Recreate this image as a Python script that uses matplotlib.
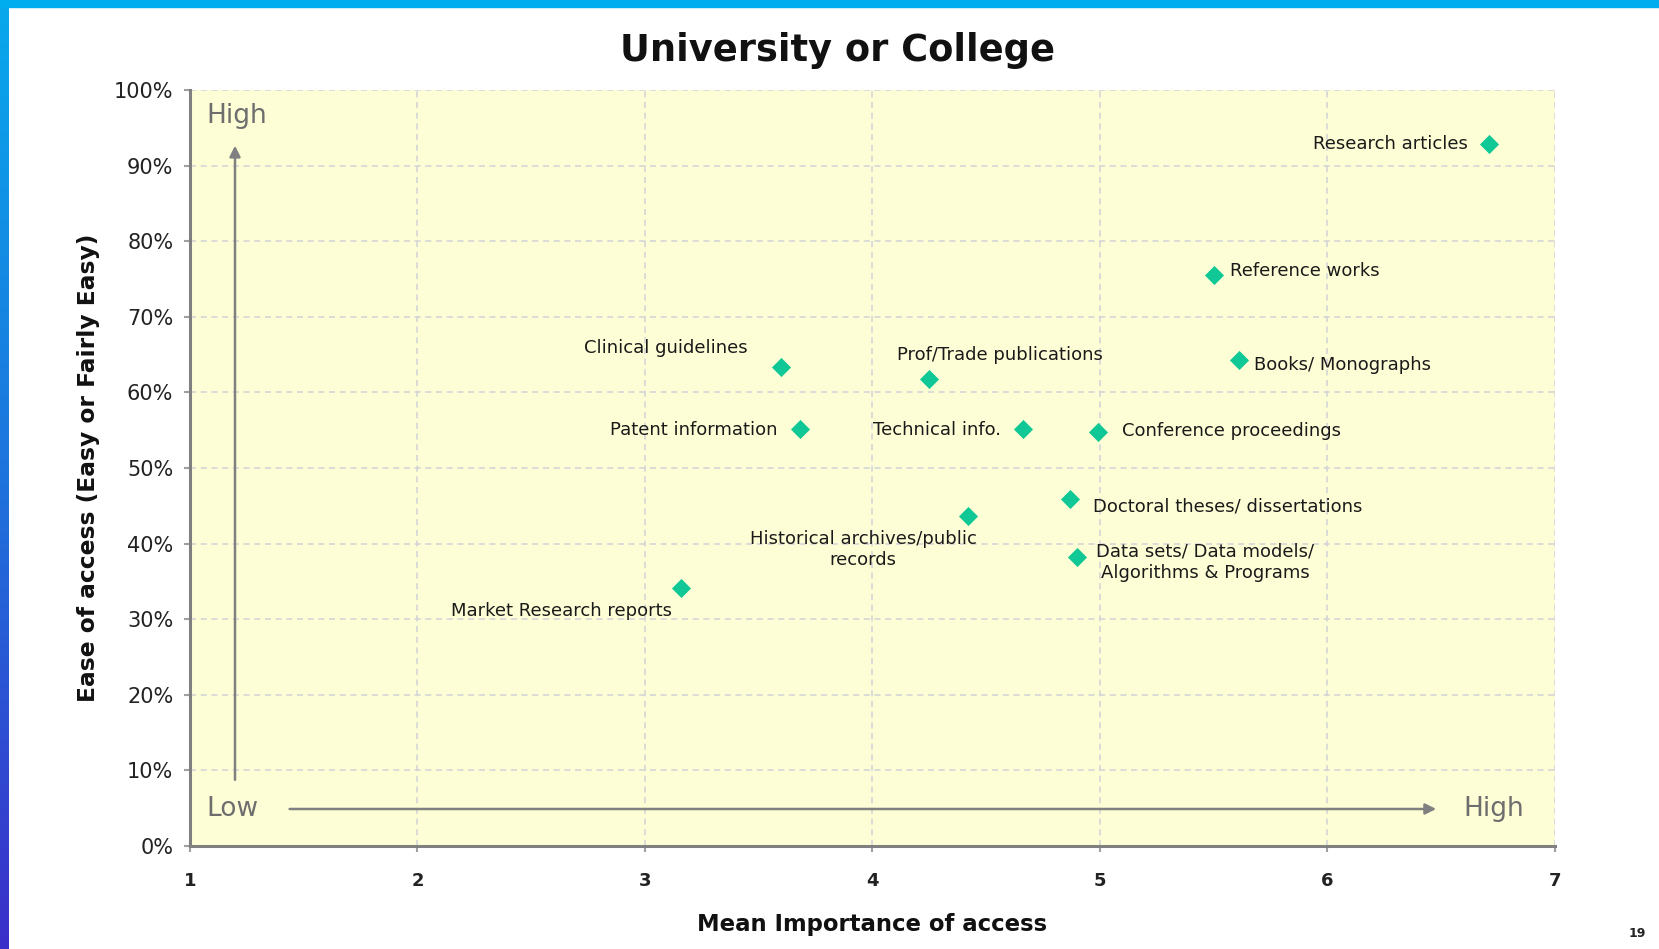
import matplotlib.pyplot as plt
import matplotlib.ticker as mticker
from matplotlib.colors import LinearSegmentedColormap
import numpy as np

# mean importance (x) and ease of access in % (y)
labels = ['Research articles', 'Reference works', 'Books/ Monographs', 'Clinical guidelines',
          'Prof/Trade publications', 'Patent information', 'Technical info.', 'Conference proceedings',
          'Doctoral theses/ dissertations', 'Historical archives/public\nrecords',
          'Data sets/ Data models/\nAlgorithms & Programs', 'Market Research reports']
importance = [6.71, 5.50, 5.61, 3.60, 4.25, 3.68, 4.66, 4.99, 4.87, 4.42, 4.90, 3.16]
ease = [92.9, 75.5, 64.3, 63.4, 61.8, 55.2, 55.2, 54.7, 45.9, 43.6, 38.2, 34.1]

# label offsets in pixels and alignment
offsets = [(-21, 0), (16, 4), (15, -5), (-34, 19), (-32, 24), (-22, -1), (-22, -1),
           (24, 1), (23, -8), (-105, -33), (128, -5), (-120, -23)]
aligns = ['right', 'left', 'left', 'right', 'left', 'right', 'right',
          'left', 'left', 'center', 'center', 'center']

x_ticks = [1, 2, 3, 4, 5, 6, 7]
y_ticks = [0, 10, 20, 30, 40, 50, 60, 70, 80, 90, 100]

plt.rcParams['font.family'] = 'DejaVu Sans'

fig = plt.figure(figsize=(16.59, 9.49), dpi=100)

# slide frame: top bar and left gradient bar
fig.patches.append(plt.Rectangle((0, 0.993), 1, 0.007, transform=fig.transFigure,
                                 color='#00aeef', zorder=0))
bar_ax = fig.add_axes([0, 0, 0.005, 0.993])
grad = np.linspace(0, 1, 256).reshape(-1, 1)
cmap = LinearSegmentedColormap.from_list('bar', ['#3b2fc9', '#1e73dd', '#08a8ec'])
bar_ax.imshow(grad, aspect='auto', cmap=cmap, origin='lower')
bar_ax.axis('off')

ax = fig.add_axes([0.1145, 0.1085, 0.8228, 0.7967])
ax.set_facecolor('#fefed6')
ax.set_xlim(1, 7)
ax.set_ylim(0, 100)
ax.set_xticks(x_ticks)
ax.set_yticks(y_ticks)
ax.yaxis.set_major_formatter(mticker.FuncFormatter(lambda v, p: f'{v:.0f}%'))
ax.grid(True, linestyle=(0, (4, 3)), color='#d2d2d8', linewidth=1.1)
ax.set_axisbelow(True)
for s in ['top', 'right']:
    ax.spines[s].set_visible(False)
for s in ['left', 'bottom']:
    ax.spines[s].set_color('#808080')
    ax.spines[s].set_linewidth(2.2)
ax.tick_params(axis='both', colors='#a0a0a0', length=4, width=1.5)
ax.tick_params(axis='y', labelcolor='#222222', labelsize=15, pad=8)
ax.tick_params(axis='x', labelcolor='#222222', labelsize=13, pad=15)
for t in ax.get_xticklabels():
    t.set_fontweight('bold')

ax.scatter(importance, ease, marker='D', s=95, color='#10c895', zorder=3, linewidths=0)

for name, xv, yv, off, ha in zip(labels, importance, ease, offsets, aligns):
    ax.annotate(name, (xv, yv), xytext=off, textcoords='offset pixels',
                ha=ha, va='center', fontsize=13, color='#1a1a1a',
                multialignment='center', zorder=4)

# Low / High guide arrows
ax.annotate('', xy=(0.033, 0.93), xytext=(0.033, 0.084), xycoords='axes fraction',
            arrowprops=dict(arrowstyle='-|>', color='#808080', lw=1.8, mutation_scale=16))
ax.annotate('', xy=(0.915, 0.049), xytext=(0.071, 0.049), xycoords='axes fraction',
            arrowprops=dict(arrowstyle='-|>', color='#808080', lw=1.8, mutation_scale=16))
ax.text(0.012, 0.965, 'High', transform=ax.transAxes, fontsize=19, color='#6e6e6e',
        ha='left', va='center')
ax.text(0.012, 0.049, 'Low', transform=ax.transAxes, fontsize=19, color='#6e6e6e',
        ha='left', va='center')
ax.text(0.933, 0.049, 'High', transform=ax.transAxes, fontsize=19, color='#6e6e6e',
        ha='left', va='center')

ax.set_xlabel('Mean Importance of access', fontsize=16.4, fontweight='bold', color='#111111')
ax.xaxis.set_label_coords(0.5, -0.088)
ax.set_ylabel('Ease of access (Easy or Fairly Easy)', fontsize=16.8, fontweight='bold', color='#111111')
ax.yaxis.set_label_coords(-0.066, 0.5)

fig.text(0.505, 0.947, 'University or College', ha='center', va='center',
         fontsize=26.5, fontweight='bold', color='#111111')
fig.text(0.992, 0.01, '19', ha='right', va='bottom', fontsize=9, fontweight='bold', color='#222222')

fig.savefig('out.png', dpi=100)
